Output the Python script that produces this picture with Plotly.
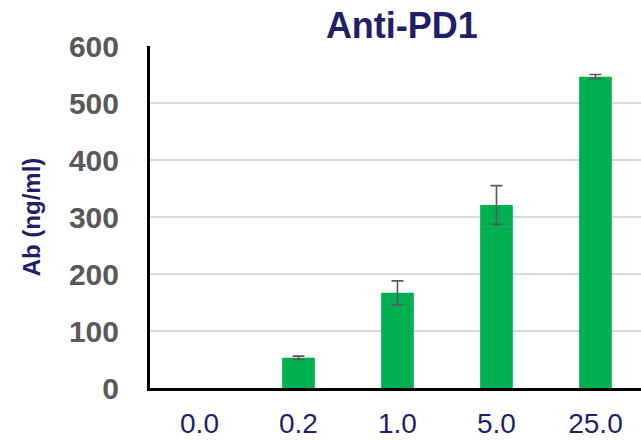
import plotly.graph_objects as go

categories = ["0.0", "0.2", "1.0", "5.0", "25.0"]
values = [0, 53, 167, 321, 546]
errors = [None, 3, 21, 34, 4]
y_ticks = [0, 100, 200, 300, 400, 500, 600]

FONT = "Liberation Sans, Arial, sans-serif"
NAVY = "#1f1f6b"
GRAY = "#595959"

err_x = [c for c, e in zip(categories, errors) if e is not None]
err_y = [v for v, e in zip(values, errors) if e is not None]
err_v = [e for e in errors if e is not None]

fig = go.Figure()
fig.add_trace(go.Bar(
    x=categories,
    y=values,
    width=0.33,
    marker=dict(color="#00b050", line=dict(width=0)),
))
fig.add_trace(go.Scatter(
    x=err_x, y=err_y, mode="markers",
    marker=dict(size=1, opacity=0),
    error_y=dict(type="data", array=err_v, visible=True,
                 color=GRAY, thickness=1.6, width=6),
    hoverinfo="skip",
))

fig.update_layout(
    width=641, height=440,
    margin=dict(l=150, r=0, t=46, b=52),
    plot_bgcolor="white", paper_bgcolor="white",
    showlegend=False,
    title=dict(text="<b>Anti-PD1</b>", font=dict(family=FONT, size=36, color=NAVY),
               xref="paper", x=0.513, xanchor="center",
               yref="container", y=1 - 25 / 440, yanchor="middle"),
)
fig.update_xaxes(
    type="category", range=[-0.5, 4.46],
    showline=True, linecolor="black", linewidth=3,
    showgrid=False, ticks="", automargin=False,
    tickfont=dict(family=FONT, size=28, color=NAVY),
    ticklabelstandoff=8,
)
fig.update_yaxes(
    range=[0, 600], tickvals=y_ticks, ticktext=[f"<b>{v}</b>" for v in y_ticks],
    showline=True, linecolor="black", linewidth=3,
    showgrid=True, gridcolor="#d9d9d9", gridwidth=1.5,
    zeroline=False, ticks="", automargin=False,
    tickfont=dict(family=FONT, size=30, color=GRAY),
    ticklabelstandoff=22,
    title=dict(text="<b>Ab (ng/ml)</b>", font=dict(family=FONT, size=24, color=NAVY), standoff=22),
)

fig.write_html("out.html", config={"displayModeBar": False},
               post_script="document.body.style.margin='0';document.body.style.padding='0';")
